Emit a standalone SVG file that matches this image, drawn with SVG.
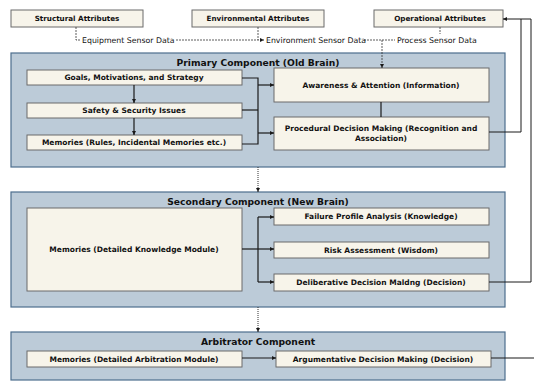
<svg xmlns="http://www.w3.org/2000/svg" width="534" height="381" viewBox="0 0 534 381">
<defs>
<style>
.panel{fill:#bccbd8;stroke:#4d6e8e;stroke-width:1.2}
.box{fill:#f7f4ea;stroke:#6b6b6b;stroke-width:1}
.t{font-family:"DejaVu Sans",Verdana,sans-serif;font-weight:bold;font-size:7.5px;fill:#111;text-anchor:middle}
.ts{font-family:"DejaVu Sans",Verdana,sans-serif;font-weight:bold;font-size:7.2px;fill:#111;text-anchor:middle}
.title{font-family:"DejaVu Sans",Verdana,sans-serif;font-weight:bold;font-size:9.2px;fill:#111;text-anchor:middle}
.lbl{font-family:"DejaVu Sans",Verdana,sans-serif;font-size:7.8px;fill:#111}
.ln{fill:none;stroke:#1a1a1a;stroke-width:1.2}
.fb{fill:none;stroke:#1a1a1a;stroke-width:1}
.dash{fill:none;stroke:#333;stroke-width:0.8;stroke-dasharray:2,1}
.dot{fill:none;stroke:#333;stroke-width:1;stroke-dasharray:1,1}
</style>
<marker id="ah" viewBox="0 0 10 10" refX="10" refY="5" markerWidth="4" markerHeight="4" orient="auto" markerUnits="userSpaceOnUse"><path d="M0,0 L10,5 L0,10 z" fill="#1a1a1a"/></marker>
</defs>
<rect width="534" height="381" fill="#fff"/>

<!-- panels -->
<g id="primary">
<rect class="panel" x="11" y="53" width="494" height="114"/>
<text class="title" x="258" y="65.5">Primary Component (Old Brain)</text>
</g>
<g id="secondary">
<rect class="panel" x="11" y="192" width="494" height="115"/>
<text class="title" x="258" y="204.5">Secondary Component (New Brain)</text>
</g>
<g id="arbitrator">
<rect class="panel" x="11" y="332" width="494" height="48"/>
<text class="title" x="258" y="344.5">Arbitrator Component</text>
</g>

<!-- top attribute nodes -->
<g id="structural"><rect class="box" x="11" y="10" width="132" height="17"/><text class="ts" x="77" y="21">Structural Attributes</text></g>
<g id="environmental"><rect class="box" x="192" y="10" width="132" height="17"/><text class="ts" x="258" y="21">Environmental Attributes</text></g>
<g id="operational"><rect class="box" x="374" y="10" width="129" height="17"/><text class="ts" x="440" y="21">Operational Attributes</text></g>

<!-- primary nodes -->
<g id="goals"><rect class="box" x="27" y="70" width="215" height="15"/><text class="t" x="134" y="80.3">Goals, Motivations, and Strategy</text></g>
<g id="safety"><rect class="box" x="27" y="103" width="215" height="15"/><text class="t" x="134" y="113.3">Safety &amp; Security Issues</text></g>
<g id="memrules"><rect class="box" x="27" y="135" width="215" height="15"/><text class="t" x="134" y="145.3">Memories (Rules, Incidental Memories etc.)</text></g>
<g id="awareness"><rect class="box" x="274" y="68" width="215" height="34"/><text class="t" x="381" y="88">Awareness &amp; Attention (Information)</text></g>
<g id="procedural"><rect class="box" x="274" y="117" width="215" height="33"/><text class="t" x="381" y="131">Procedural Decision Making (Recognition and</text><text class="t" x="381" y="141">Association)</text></g>

<!-- secondary nodes -->
<g id="memknow"><rect class="box" x="27" y="208" width="215" height="83"/><text class="t" x="134" y="252">Memories (Detailed Knowledge Module)</text></g>
<g id="failure"><rect class="box" x="274" y="208" width="215" height="17"/><text class="t" x="381" y="219.3">Failure Profile Analysis (Knowledge)</text></g>
<g id="risk"><rect class="box" x="274" y="242" width="215" height="16"/><text class="t" x="381" y="252.8">Risk Assessment (Wisdom)</text></g>
<g id="deliberative"><rect class="box" x="274" y="274" width="215" height="17"/><text class="t" x="381" y="285.3">Deliberative Decision Maldng (Decision)</text></g>

<!-- arbitrator nodes -->
<g id="memarb"><rect class="box" x="27" y="351" width="215" height="16"/><text class="t" x="134" y="361.8">Memories (Detailed Arbitration Module)</text></g>
<g id="argumentative"><rect class="box" x="276" y="351" width="215" height="16"/><text class="t" x="383" y="361.8">Argumentative Decision Making (Decision)</text></g>

<!-- connectors -->
<g id="connectors">
<!-- sensor data dashed -->
<path class="dash" d="M76,27 V40 H81"/>
<text class="lbl" x="82" y="43">Equipment Sensor Data</text>
<path class="dash" d="M176,40 H264" marker-end="url(#ah)"/>
<path class="dash" d="M258,27 V40"/>
<text class="lbl" x="266" y="43">Environment Sensor Data</text>
<path class="dash" d="M364,40 H395"/>
<path class="dash" d="M382,40 V68" marker-end="url(#ah)"/>
<path class="dash" d="M440,27 V34"/>
<text class="lbl" x="397" y="43">Process Sensor Data</text>

<!-- primary -->
<path class="ln" d="M134,85 V103" marker-end="url(#ah)"/>
<path class="ln" d="M134,118 V135" marker-end="url(#ah)"/>
<path class="ln" d="M242,78 H258 V144 H242"/>
<path class="ln" d="M242,110 H258"/>
<path class="ln" d="M258,85 H274" marker-end="url(#ah)"/>
<path class="ln" d="M258,133 H274" marker-end="url(#ah)"/>
<path class="ln" d="M381,102 V117"/>

<!-- feedback to operational -->
<path class="fb" d="M489,132 H521 V19"/>
<path class="fb" d="M489,282 H531 V19 H503" marker-end="url(#ah)"/>

<!-- between panels -->
<path class="dot" d="M258,167 V192" marker-end="url(#ah)"/>
<path class="dot" d="M258,307 V332" marker-end="url(#ah)"/>

<!-- secondary -->
<path class="ln" d="M242,249 H258"/>
<path class="ln" d="M258,217 V282"/>
<path class="ln" d="M258,217 H274" marker-end="url(#ah)"/>
<path class="ln" d="M258,249 H274" marker-end="url(#ah)"/>
<path class="ln" d="M258,282 H274" marker-end="url(#ah)"/>

<!-- arbitrator -->
<path class="ln" d="M242,358 H276" marker-end="url(#ah)"/>
<path class="ln" d="M491,358 H534"/>
</g>
</svg>
